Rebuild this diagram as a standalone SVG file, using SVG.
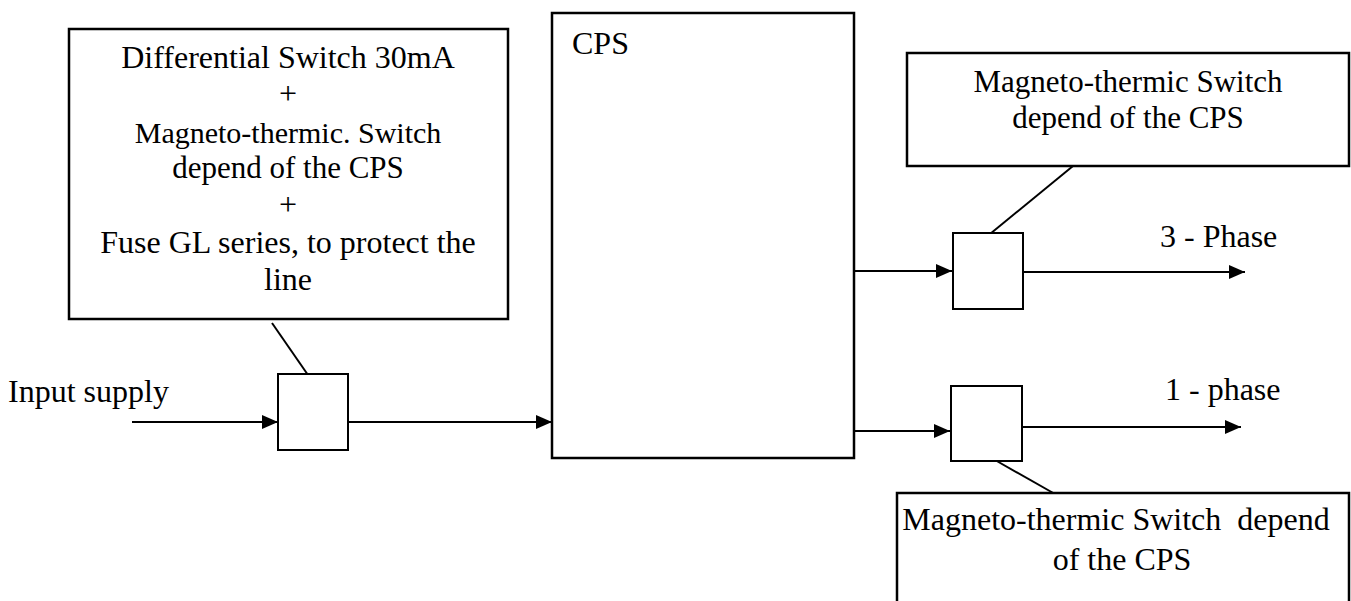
<svg xmlns="http://www.w3.org/2000/svg" width="1351" height="601" viewBox="0 0 1351 601">
<defs>
<marker id="ah" viewBox="0 0 16 14" refX="16" refY="7" markerWidth="16" markerHeight="14" markerUnits="userSpaceOnUse" orient="auto">
<path d="M0,0 L16,7 L0,14 Z" fill="#000"/>
</marker>
<style>
.box{fill:#fff;stroke:#000;stroke-width:2.5}
.sq{fill:#fff;stroke:#000;stroke-width:2}
.ln{fill:none;stroke:#000;stroke-width:2}
.t{font-family:"Liberation Serif","Times New Roman",serif;fill:#000}
.c{text-anchor:middle}
</style>
</defs>
<rect width="1351" height="601" fill="#fff"/>
<g id="connectors">
<line class="ln" x1="132" y1="422" x2="278" y2="422" marker-end="url(#ah)"/>
<line class="ln" x1="348" y1="422" x2="552" y2="422" marker-end="url(#ah)"/>
<line class="ln" x1="854" y1="271" x2="952" y2="271" marker-end="url(#ah)"/>
<line class="ln" x1="1023" y1="272" x2="1245" y2="272" marker-end="url(#ah)"/>
<line class="ln" x1="854" y1="431" x2="950" y2="431" marker-end="url(#ah)"/>
<line class="ln" x1="1022" y1="427" x2="1241" y2="427" marker-end="url(#ah)"/>
<line class="ln" x1="272" y1="323" x2="308" y2="375"/>
<line class="ln" x1="1073" y1="166" x2="990" y2="234"/>
<line class="ln" x1="995" y1="460" x2="1055" y2="494"/>
</g>
<g id="protection-box">
<rect class="box" x="69" y="29" width="439" height="290"/>
<text class="t c" font-size="32" x="288" y="68">Differential Switch 30mA</text>
<text class="t c" font-size="32" x="288" y="104">+</text>
<text class="t c" font-size="30" x="288" y="143">Magneto-thermic. Switch</text>
<text class="t c" font-size="31" x="288" y="178">depend of the CPS</text>
<text class="t c" font-size="32" x="288" y="215">+</text>
<text class="t c" font-size="32" x="288" y="253">Fuse GL series, to protect the</text>
<text class="t c" font-size="32" x="288" y="290">line</text>
</g>
<g id="input-label">
<text class="t" font-size="32" x="8" y="402">Input supply</text>
</g>
<g id="input-switch">
<rect class="sq" x="278" y="374" width="70" height="76"/>
</g>
<g id="cps">
<rect class="box" x="552" y="13" width="302" height="445"/>
<text class="t" font-size="32" x="572" y="54">CPS</text>
</g>
<g id="switch-3phase">
<rect class="sq" x="953" y="233" width="70" height="76"/>
</g>
<g id="switch-1phase">
<rect class="sq" x="951" y="386" width="71" height="75"/>
</g>
<g id="label-3phase-switch">
<rect class="box" x="907" y="53" width="442" height="113"/>
<text class="t c" font-size="31" x="1128" y="92">Magneto-thermic Switch</text>
<text class="t c" font-size="31" x="1128" y="128">depend of the CPS</text>
</g>
<g id="label-1phase-switch">
<rect class="box" x="897" y="493" width="452" height="130"/>
<text class="t c" font-size="32" x="1116" y="530" xml:space="preserve">Magneto-thermic Switch  depend</text>
<text class="t c" font-size="32" x="1122" y="570">of the CPS</text>
</g>
<g id="output-labels">
<text class="t" font-size="32" x="1160" y="247">3 - Phase</text>
<text class="t" font-size="32" x="1165" y="400">1 - phase</text>
</g>
</svg>
